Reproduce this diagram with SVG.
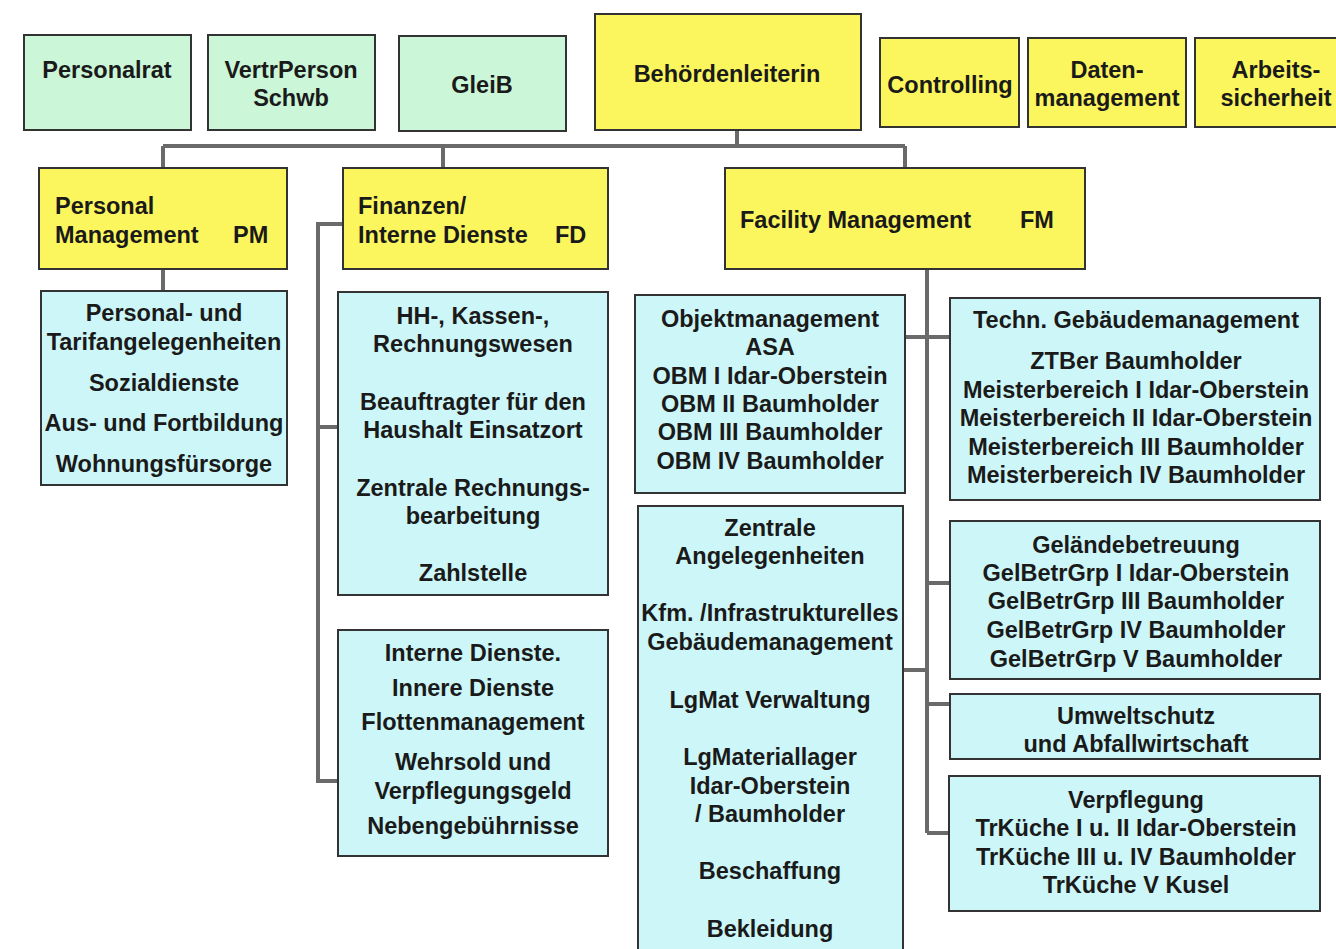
<svg xmlns="http://www.w3.org/2000/svg" width="1336" height="949" viewBox="0 0 1336 949">
<style>
text{font-family:"Liberation Sans",Arial,sans-serif;font-weight:bold;font-size:23.5px;fill:#1a1a1a}
.c{text-anchor:middle}
.g{fill:#cbf6d8;stroke:#333;stroke-width:2}
.y{fill:#fbf65e;stroke:#333;stroke-width:2}
.b{fill:#cdf6f8;stroke:#333;stroke-width:2}
.ln{fill:none;stroke:#6a6a6a;stroke-width:4}
</style>
<rect width="1336" height="949" fill="#fff"/>
<g id="connectors" class="ln">
<path d="M737 130V146M163 146H905M163 146V168M443 146V168M905 146V168"/>
<path d="M163 269V291"/>
<path d="M343 224H318V781H338M318 427H338"/>
<path d="M927 269V833M905 337H950M927 583H950M903 670H927M927 704H950M927 833H950"/>
</g>
<g id="personalrat"><rect class="g" x="24" y="35" width="167" height="95"/><text class="c" x="107" y="78">Personalrat</text></g>
<g id="vertrperson"><rect class="g" x="208" y="35" width="167" height="95"/><text class="c" x="291" y="78">VertrPerson</text><text class="c" x="291" y="106">Schwb</text></g>
<g id="gleib"><rect class="g" x="399" y="36" width="167" height="95"/><text class="c" x="482" y="93">GleiB</text></g>
<g id="behoerdenleiterin"><rect class="y" x="595" y="14" width="266" height="116"/><text class="c" x="727" y="82">Behördenleiterin</text></g>
<g id="controlling"><rect class="y" x="880" y="38" width="139" height="89"/><text class="c" x="950" y="93">Controlling</text></g>
<g id="datenmanagement"><rect class="y" x="1028" y="38" width="158" height="89"/><text class="c" x="1107" y="78">Daten-</text><text class="c" x="1107" y="106">management</text></g>
<g id="arbeitssicherheit"><rect class="y" x="1195" y="38" width="150" height="89"/><text class="c" x="1276" y="78">Arbeits-</text><text class="c" x="1276" y="106">sicherheit</text></g>
<g id="pm"><rect class="y" x="39" y="168" width="248" height="101"/><text x="55" y="214">Personal</text><text x="55" y="243">Management</text><text x="233" y="243">PM</text></g>
<g id="fd"><rect class="y" x="343" y="168" width="265" height="101"/><text x="358" y="214">Finanzen/</text><text x="358" y="243">Interne Dienste</text><text x="555" y="243">FD</text></g>
<g id="fm"><rect class="y" x="725" y="168" width="360" height="101"/><text x="740" y="228">Facility Management</text><text x="1020" y="228">FM</text></g>
<g id="pm-sub"><rect class="b" x="41" y="291" width="246" height="194"/>
<text class="c" x="164" y="321">Personal- und</text><text class="c" x="164" y="350">Tarifangelegenheiten</text><text class="c" x="164" y="391">Sozialdienste</text><text class="c" x="164" y="431">Aus- und Fortbildung</text><text class="c" x="164" y="472">Wohnungsfürsorge</text></g>
<g id="hh"><rect class="b" x="338" y="292" width="270" height="303"/>
<text class="c" x="473" y="324">HH-, Kassen-,</text><text class="c" x="473" y="352">Rechnungswesen</text><text class="c" x="473" y="410">Beauftragter für den</text><text class="c" x="473" y="438">Haushalt Einsatzort</text><text class="c" x="473" y="496">Zentrale Rechnungs-</text><text class="c" x="473" y="524">bearbeitung</text><text class="c" x="473" y="581">Zahlstelle</text></g>
<g id="interne"><rect class="b" x="338" y="630" width="270" height="226"/>
<text class="c" x="473" y="661">Interne Dienste.</text><text class="c" x="473" y="696">Innere Dienste</text><text class="c" x="473" y="730">Flottenmanagement</text><text class="c" x="473" y="770">Wehrsold und</text><text class="c" x="473" y="799">Verpflegungsgeld</text><text class="c" x="473" y="834">Nebengebührnisse</text></g>
<g id="objekt"><rect class="b" x="635" y="295" width="270" height="198"/>
<text class="c" x="770" y="327">Objektmanagement</text><text class="c" x="770" y="355">ASA</text><text class="c" x="770" y="384">OBM I Idar-Oberstein</text><text class="c" x="770" y="412">OBM II Baumholder</text><text class="c" x="770" y="440">OBM III Baumholder</text><text class="c" x="770" y="469">OBM IV Baumholder</text></g>
<g id="zentrale"><rect class="b" x="638" y="506" width="265" height="450"/>
<text class="c" x="770" y="536">Zentrale</text><text class="c" x="770" y="564">Angelegenheiten</text><text class="c" x="770" y="621">Kfm. /Infrastrukturelles</text><text class="c" x="770" y="650">Gebäudemanagement</text><text class="c" x="770" y="708">LgMat Verwaltung</text><text class="c" x="770" y="765">LgMateriallager</text><text class="c" x="770" y="794">Idar-Oberstein</text><text class="c" x="770" y="822">/ Baumholder</text><text class="c" x="770" y="879">Beschaffung</text><text class="c" x="770" y="937">Bekleidung</text></g>
<g id="techn"><rect class="b" x="950" y="298" width="370" height="202"/>
<text class="c" x="1136" y="328">Techn. Gebäudemanagement</text><text class="c" x="1136" y="369">ZTBer Baumholder</text><text class="c" x="1136" y="398">Meisterbereich I Idar-Oberstein</text><text class="c" x="1136" y="426">Meisterbereich II Idar-Oberstein</text><text class="c" x="1136" y="455">Meisterbereich III Baumholder</text><text class="c" x="1136" y="483">Meisterbereich IV Baumholder</text></g>
<g id="gelaende"><rect class="b" x="950" y="521" width="370" height="158"/>
<text class="c" x="1136" y="553">Geländebetreuung</text><text class="c" x="1136" y="581">GelBetrGrp I Idar-Oberstein</text><text class="c" x="1136" y="609">GelBetrGrp III Baumholder</text><text class="c" x="1136" y="638">GelBetrGrp IV Baumholder</text><text class="c" x="1136" y="667">GelBetrGrp V Baumholder</text></g>
<g id="umwelt"><rect class="b" x="950" y="694" width="370" height="65"/>
<text class="c" x="1136" y="724">Umweltschutz</text><text class="c" x="1136" y="752">und Abfallwirtschaft</text></g>
<g id="verpflegung"><rect class="b" x="949" y="776" width="371" height="135"/>
<text class="c" x="1136" y="808">Verpflegung</text><text class="c" x="1136" y="836">TrKüche I u. II Idar-Oberstein</text><text class="c" x="1136" y="865">TrKüche III u. IV Baumholder</text><text class="c" x="1136" y="893">TrKüche V Kusel</text></g>
</svg>
